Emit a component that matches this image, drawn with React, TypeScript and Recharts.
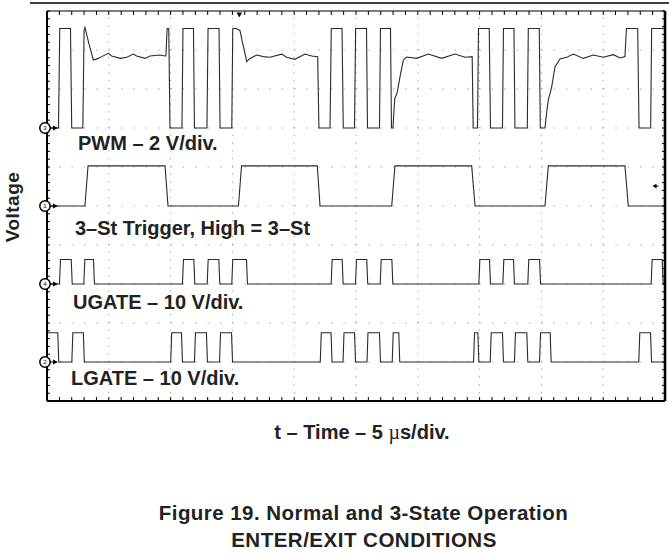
import React from 'react';
import { LineChart, Line, XAxis, YAxis, ReferenceLine, ReferenceDot } from 'recharts';

// scope screen: 10 x 10 divisions, time in µs (5 µs/div), vertical in divisions
const timeGrid = [5, 10, 15, 20, 25, 30, 35, 40, 45];
const divGrid = [1, 2, 3, 4, 5, 6, 7, 8, 9];
const timeTicks = Array.from({ length: 51 }, (_, i) => i);
const divTicks = Array.from({ length: 51 }, (_, i) => i / 5);

// channel grounds (division) and scale (V/div)
const PWM_GROUND = 7;
const PWM_VDIV = 2;
const TRIG_GROUND = 5;
const TRIG_VDIV = 5;
const UGATE_GROUND = 3;
const UGATE_VDIV = 10;
const LGATE_GROUND = 1;
const LGATE_VDIV = 10;

const TRIGGER_T = 15.56;
const TRIGGER_LEVEL = 5.51;

// PWM trace [t µs, V]
const pwmTrace: [number, number][] = [
  [0, 0], [0.93, 0], [1.03, 5.1], [1.9, 5.1], [2.0, 0], [2.9, 0], [3.0, 5.0], [3.07, 5.15],
  [3.4, 4.3], [3.75, 3.49], [4.15, 3.57], [4.43, 3.66], [4.96, 3.83], [5.23, 3.69], [5.91, 3.57],
  [6.45, 3.63], [6.98, 3.79], [7.25, 3.69], [7.93, 3.57], [8.33, 3.69], [9.14, 3.74], [9.55, 3.69],
  [9.62, 3.7], [9.72, 5.1], [9.85, 5.1], [9.95, 0],
  [10.92, 0], [11.0, 5.1], [11.85, 5.1], [11.93, 0],
  [12.94, 0], [13.03, 5.1], [13.92, 5.1], [14.0, 0],
  [14.95, 0], [15.03, 5.1], [15.29, 5.1], [15.61, 5.0], [15.86, 4.26], [16.16, 3.4], [16.42, 3.57],
  [16.97, 3.74], [17.5, 3.66], [18.04, 3.63], [18.99, 3.79], [19.39, 3.63], [20.06, 3.52],
  [20.87, 3.79], [21.42, 3.69], [21.9, 3.66],
  [22.0, 0], [22.9, 0], [23.0, 5.1], [23.87, 5.1], [23.97, 0],
  [24.88, 0], [24.97, 5.1], [25.85, 5.1], [25.93, 0],
  [26.9, 0], [26.98, 5.1], [27.79, 5.1], [27.87, 0], [27.99, 0],
  [28.08, 1.0], [28.15, 1.54], [28.32, 1.79], [28.56, 2.62], [28.83, 3.49], [29.1, 3.64],
  [29.91, 3.57], [30.85, 3.79], [31.93, 3.57], [33.01, 3.79], [33.82, 3.63], [34.4, 3.66],
  [34.48, 0], [34.83, 0], [34.91, 5.1], [35.78, 5.1], [35.88, 0],
  [36.85, 0], [36.93, 5.1], [37.78, 5.1], [37.86, 0],
  [38.86, 0], [38.94, 5.1], [39.83, 5.1], [39.91, 0], [40.29, 0],
  [40.45, 0.92], [40.56, 1.44], [40.83, 2.1], [41.1, 3.13], [41.5, 3.54], [42.05, 3.63],
  [42.58, 3.79], [43.39, 3.57], [44.2, 3.74], [45.01, 3.63], [45.82, 3.76], [46.36, 3.59], [46.76, 3.66],
  [46.88, 5.1], [47.79, 5.1], [47.9, 0], [48.84, 0], [48.92, 5.1], [50, 5.1],
];

// 3-state trigger: [rise start, rise end, fall start, fall end] µs
const triggerPulses = [
  [3.07, 3.32, 9.55, 9.79],
  [15.49, 15.74, 21.87, 22.09],
  [27.89, 28.15, 34.36, 34.63],
  [40.29, 40.56, 46.76, 47.03],
];
const TRIG_HIGH = 5.15;

// gate drives: [rising edge, falling edge] µs
const ugatePulses = [
  [1.05, 2.0], [3.02, 3.8], [11.0, 11.92], [13.0, 13.94], [14.99, 16.18],
  [23.03, 23.92], [25.0, 25.91], [27.0, 27.94], [34.98, 35.84], [36.92, 37.78],
  [38.94, 39.89], [48.92, 49.81],
];
const UGATE_HIGH = 6.3;

const lgatePulses = [
  [0, 0.91], [2.05, 2.98], [10.05, 10.92], [11.97, 12.94], [14.0, 14.97],
  [22.15, 23.02], [23.99, 24.92], [25.93, 26.94], [27.97, 28.5], [34.55, 34.9],
  [35.9, 36.89], [37.86, 38.86], [39.89, 40.75], [47.92, 48.87],
];
const LGATE_HIGH = 7.5;

const GATE_EDGE = 0.04;

const toRows = (pts: [number, number][], ground: number, vdiv: number) =>
  pts.map(([t, v]) => ({ t, y: ground + v / vdiv }));

const edgesToPoints = (pulses: number[][], high: number) => {
  const pts: [number, number][] = [];
  if (pulses[0][0] > 0) pts.push([0, 0]);
  pulses.forEach(([a, b, c, d]) => {
    pts.push([a, 0], [b, high], [c, high], [d, 0]);
  });
  pts.push([50, 0]);
  return pts;
};

const gateToEdges = (pulses: number[][]) =>
  pulses.map(([r, f]) => [Math.max(0, r - GATE_EDGE), Math.max(0, r + GATE_EDGE), f - GATE_EDGE, f + GATE_EDGE]);

const pwmData = toRows(pwmTrace, PWM_GROUND, PWM_VDIV);
const trigData = toRows(edgesToPoints(triggerPulses, TRIG_HIGH), TRIG_GROUND, TRIG_VDIV);
const ugateData = toRows(edgesToPoints(gateToEdges(ugatePulses), UGATE_HIGH), UGATE_GROUND, UGATE_VDIV);
const lgateData = toRows(edgesToPoints(gateToEdges(lgatePulses), LGATE_HIGH), LGATE_GROUND, LGATE_VDIV);

const TRACE = '#2a2a2a';
const GRID = '#9a9a9a';
const FONT = "'Liberation Sans', Arial, Helvetica, sans-serif";

const channelMarker = (label: string) => (p: any) => (
  <g>
    <line x1={p.cx + 2} y1={p.cy} x2={p.cx + 7} y2={p.cy} stroke="#000" strokeWidth={1} />
    <path d={`M${p.cx + 6},${p.cy - 2.5} L${p.cx + 11},${p.cy} L${p.cx + 6},${p.cy + 2.5} Z`} fill="#000" />
    <circle cx={p.cx - 2} cy={p.cy} r={5.2} fill="#fff" stroke="#000" strokeWidth={1.5} />
    <text x={p.cx - 2} y={p.cy + 2.2} textAnchor="middle" fontSize={6} fontFamily={FONT}>{label}</text>
  </g>
);

const triggerMark = (p: any) => (
  <path d={`M${p.cx - 2.8},${p.cy + 1.5} L${p.cx + 2.8},${p.cy + 1.5} L${p.cx},${p.cy + 6.5} Z`} fill="#000" />
);

const levelMark = (p: any) => (
  <g>
    <path d={`M${p.cx - 12.5},${p.cy} L${p.cx - 8.5},${p.cy - 2.3} L${p.cx - 8.5},${p.cy + 2.3} Z`} fill="#000" />
    <line x1={p.cx - 9} y1={p.cy} x2={p.cx - 6.5} y2={p.cy} stroke="#000" strokeWidth={1} />
  </g>
);

const blank = () => '';

export default function App() {
  const label = { fontFamily: FONT, fontWeight: 700, fontSize: 20, fill: '#222' };
  return (
    <div style={{ position: 'relative', width: 669, height: 556 }}>
      <style>{'body{margin:0}'}</style>
      <LineChart width={669} height={556} data={pwmData} margin={{ top: 11, right: 4, bottom: 155, left: 47 }}>
        <XAxis xAxisId="b" type="number" dataKey="t" domain={[0, 50]} ticks={timeTicks} interval={0}
          orientation="bottom" mirror tickSize={4} tickFormatter={blank} allowDataOverflow
          axisLine={{ stroke: '#000', strokeWidth: 2 }} tickLine={{ stroke: '#000' }} />
        <XAxis xAxisId="t" type="number" dataKey="t" domain={[0, 50]} ticks={timeTicks} interval={0}
          orientation="top" mirror tickSize={4} tickFormatter={blank} allowDataOverflow
          axisLine={{ stroke: '#000', strokeWidth: 1.2 }} tickLine={{ stroke: '#000' }} />
        <YAxis yAxisId="l" type="number" domain={[0, 10]} ticks={divTicks} interval={0}
          orientation="left" mirror tickSize={3} tickFormatter={blank} allowDataOverflow
          axisLine={{ stroke: '#000', strokeWidth: 2 }} tickLine={{ stroke: '#000' }} />
        <YAxis yAxisId="r" type="number" domain={[0, 10]} ticks={divTicks} interval={0}
          orientation="right" mirror tickSize={3} tickFormatter={blank} allowDataOverflow
          axisLine={{ stroke: '#000', strokeWidth: 2.6 }} tickLine={{ stroke: '#000' }} />

        {timeGrid.map((t) => (
          <ReferenceLine key={'vx' + t} x={t} xAxisId="b" yAxisId="l" stroke={GRID} strokeWidth={1} strokeDasharray="1.2 6.6" />
        ))}
        {divGrid.map((d) => (
          <ReferenceLine key={'hy' + d} y={d} xAxisId="b" yAxisId="l" stroke={GRID} strokeWidth={1} strokeDasharray="1.2 11.16" />
        ))}

        <Line data={pwmData} dataKey="y" xAxisId="b" yAxisId="l" type="linear" stroke={TRACE} strokeWidth={1.1} dot={false} isAnimationActive={false} />
        <Line data={trigData} dataKey="y" xAxisId="b" yAxisId="l" type="linear" stroke={TRACE} strokeWidth={1.1} dot={false} isAnimationActive={false} />
        <Line data={ugateData} dataKey="y" xAxisId="b" yAxisId="l" type="linear" stroke={TRACE} strokeWidth={1.1} dot={false} isAnimationActive={false} />
        <Line data={lgateData} dataKey="y" xAxisId="b" yAxisId="l" type="linear" stroke={TRACE} strokeWidth={1.1} dot={false} isAnimationActive={false} />

        <ReferenceDot x={0} y={PWM_GROUND} xAxisId="b" yAxisId="l" shape={channelMarker('3')} />
        <ReferenceDot x={0} y={TRIG_GROUND} xAxisId="b" yAxisId="l" shape={channelMarker('1')} />
        <ReferenceDot x={0} y={UGATE_GROUND} xAxisId="b" yAxisId="l" shape={channelMarker('4')} />
        <ReferenceDot x={0} y={LGATE_GROUND} xAxisId="b" yAxisId="l" shape={channelMarker('2')} />
        <ReferenceDot x={TRIGGER_T} y={10} xAxisId="b" yAxisId="l" shape={triggerMark} />
        <ReferenceDot x={50} y={TRIGGER_LEVEL} xAxisId="b" yAxisId="l" shape={levelMark} />
      </LineChart>

      <svg width={669} height={556} style={{ position: 'absolute', left: 0, top: 0, pointerEvents: 'none' }}>
        <line x1={30} y1={3} x2={669} y2={3} stroke="#000" strokeWidth={1.5} />
        <text x={78} y={149.5} style={label}>PWM – 2 V/div.</text>
        <text x={75} y={235} style={label}>3–St Trigger, High = 3–St</text>
        <text x={73} y={309} style={label}>UGATE – 10 V/div.</text>
        <text x={71} y={385} style={label}>LGATE – 10 V/div.</text>
        <text x={19} y={207} transform="rotate(-90 19 207)" textAnchor="middle"
          style={{ ...label, fontSize: 19, letterSpacing: 0.5 }}>Voltage</text>
        <text x={362} y={438.5} textAnchor="middle" style={label}>
          t – Time – 5 <tspan style={{ fontFamily: "'Liberation Serif', serif", fontWeight: 400 }}>µ</tspan>s/div.
        </text>
        <text x={363.5} y={519.5} textAnchor="middle" style={{ ...label, fontSize: 20.5, letterSpacing: 0.45 }}>
          Figure 19. Normal and 3-State Operation
        </text>
        <text x={364} y={546.5} textAnchor="middle" style={{ ...label, fontSize: 20.5, letterSpacing: 0.5 }}>
          ENTER/EXIT CONDITIONS
        </text>
      </svg>
    </div>
  );
}
